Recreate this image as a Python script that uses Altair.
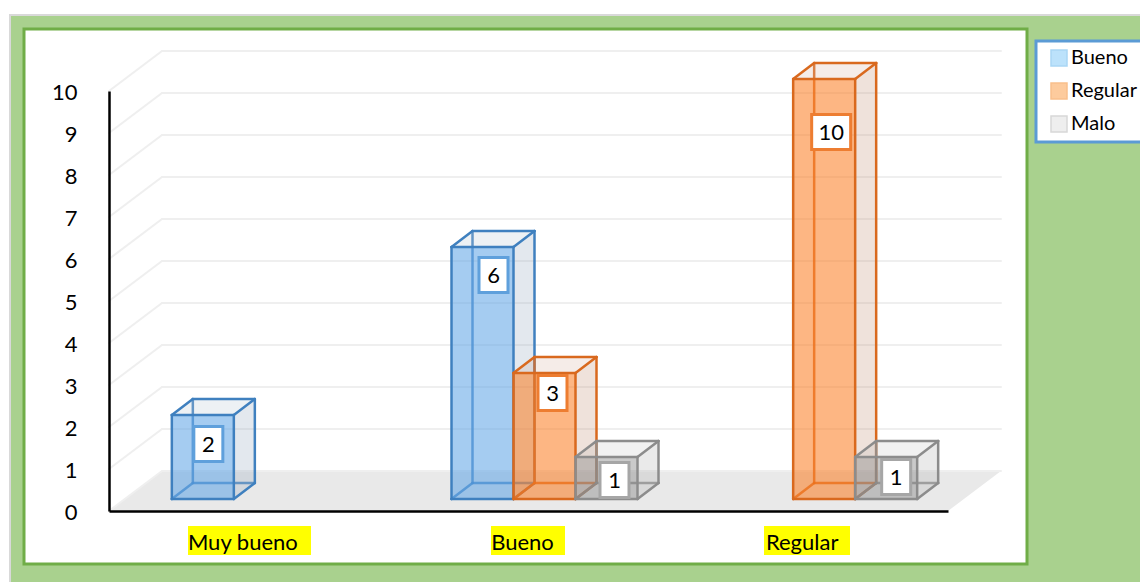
import altair as alt
import pandas as pd

# ---- chart values
categories = ["Muy bueno", "Bueno", "Regular"]
series = ["Bueno", "Regular", "Malo"]
bueno = [2, 6, None]
regular = [None, 3, 10]
malo = [None, 1, 1]
y_ticks = list(range(0, 11))

# ---- styling
FONT = "Lato"
FS = 22
legend_fill = ["#bce2fb", "#fdcb9d", "#eeeeee"]
legend_stroke = ["#a9d6f5", "#f9c08c", "#d8d8d8"]
edge = ["#3f80bf", "#d9691e", "#8c8c8c"]
box_edge = ["#5fa0dc", "#ed7d31", "#a6a6a6"]
front = ["#5ba3e6", "#fb7a1e", "#8a8a8a"]
side = ["#8fa5bb", "#c08a70", "#aaaaaa"]

# ---- layout (px of the plot area; the scales turn them into data units)
W, H = 839, 420
PX_X = 3 / W           # category units per pixel
PX_Y = 10 / H          # value units per pixel
ORIGIN_X, ORIGIN_Y = 109, 91
WALL_DX, WALL_DY = 53 * PX_X, 40 * PX_Y
BAR_W = 62 * PX_X
FRONT_DX, FRONT_DY = 16 * PX_X, 12 * PX_Y
DEPTH_DX, DEPTH_DY = 21 * PX_X, 16 * PX_Y
# per-bar data-label placement: px right of bar centre, px from bar top to box centre, box width
label_place = {
    (0, 0): (5.5, 29, 29),
    (1, 0): (11, 28, 29),
    (1, 1): (8, 20, 29),
    (1, 2): (8, 23, 29),
    (2, 1): (7, 53, 39),
    (2, 2): (10, 20, 29),
}
BOX_H = 35
yellow = [(188, 311), (491, 565), (764, 850)]

axis_x = alt.Axis(
    values=[0.5, 1.5, 2.5],
    labelExpr="datum.value < 1 ? 'Muy bueno' : datum.value < 2 ? 'Bueno' : 'Regular'",
    grid=False, ticks=False, domainColor="#000000", domainWidth=2.5,
    labelFont=FONT, labelFontSize=FS, labelColor="#000000", labelPadding=21,
    labelOffset=-6.5, labelAngle=0, zindex=1, labelOverlap=False, title=None,
)
axis_y = alt.Axis(
    values=y_ticks, grid=False, ticks=False, domainColor="#000000", domainWidth=2.5,
    labelFont=FONT, labelFontSize=FS, labelColor="#000000", labelPadding=32,
    labelOffset=1, zindex=1, labelOverlap=False, title=None, format="d",
)


def sx(field):
    return alt.X(field, type="quantitative", scale=alt.Scale(domain=[0, 3], nice=False, zero=False), axis=axis_x)


def sy(field):
    return alt.Y(field, type="quantitative", scale=alt.Scale(domain=[0, 10], nice=False, zero=False), axis=axis_y)


X2 = alt.X2
Y2 = alt.Y2


def frame(x0, x1, y0, y1, **kw):
    return alt.Chart(pd.DataFrame({"a": [0]})).mark_rect(**kw).encode(
        x=alt.value(x0 - ORIGIN_X), x2=alt.value(x1 - ORIGIN_X),
        y=alt.value(y0 - ORIGIN_Y), y2=alt.value(y1 - ORIGIN_Y),
    )


def rules(rows, color, width, opacity=1.0):
    return alt.Chart(pd.DataFrame(rows, columns=["x", "x2", "y", "y2"])).mark_rule(
        color=color, strokeWidth=width, opacity=opacity, strokeCap="round"
    ).encode(x=sx("x"), x2=X2("x2"), y=sy("y"), y2=Y2("y2"))


legend = alt.Legend(
    title=None, orient="none", legendX=927, legendY=-50,
    symbolType="square", symbolSize=256, symbolOpacity=1, symbolStrokeWidth=1.5,
    labelFont=FONT, labelFontSize=20, labelColor="#000000", labelOpacity=1,
    fillColor="#ffffff", strokeColor="#5b9bd5", padding=7, rowPadding=11,
    symbolOffset=6, labelOffset=2,
)
carrier = alt.Chart(pd.DataFrame({"serie": series, "x": [0, 0, 0], "y": [0, 0, 0]})).mark_square(
    opacity=0, filled=True
).encode(
    x=sx("x"), y=sy("y"),
    fill=alt.Fill("serie:N", sort=series, scale=alt.Scale(domain=series, range=legend_fill), legend=legend),
    stroke=alt.Stroke("serie:N", sort=series, scale=alt.Scale(domain=series, range=legend_stroke), legend=legend),
)

layers = [
    carrier,
    frame(10, 1160, 15, 600, fill="#a9d18e", stroke="#d9d9d9", strokeWidth=2),
    frame(24, 1027, 29, 564, fill="#ffffff", stroke="#70ad47", strokeWidth=3),
]

# floor
layers.append(
    alt.Chart(pd.DataFrame({"y": [0, WALL_DY], "x": [0, WALL_DX], "x2": [3, 3 + WALL_DX]}))
    .mark_area(orient="horizontal", color="#e9e9e9")
    .encode(y=sy("y"), x=sx("x"), x2=X2("x2"))
)

# gridlines on the side and back walls
grid_rows = []
for k in y_ticks:
    grid_rows.append((0, WALL_DX, k, k + WALL_DY))
    grid_rows.append((WALL_DX, 3 + WALL_DX, k + WALL_DY, k + WALL_DY))
layers.append(rules(grid_rows, "#efefef", 2))

# the 3D bars, back to front
for s, vals in enumerate([bueno, regular, malo]):
    for c, v in enumerate(vals):
        if v is None:
            continue
        x0 = c + 0.5 + (s - 1.5) * BAR_W + FRONT_DX
        x1 = x0 + BAR_W
        y0 = FRONT_DY
        y1 = v + FRONT_DY
        bx0, bx1, by0, by1 = x0 + DEPTH_DX, x1 + DEPTH_DX, y0 + DEPTH_DY, y1 + DEPTH_DY
        # hidden edges
        layers.append(rules([
            (bx0, bx1, by0, by0), (bx0, bx0, by0, by1), (x0, bx0, y0, by0)
        ], edge[s], 2.5, 0.85))
        # right side face
        layers.append(
            alt.Chart(pd.DataFrame({"x": [x1, bx1], "y": [y0, by0], "y2": [y1, by1]}))
            .mark_area(color=side[s], opacity=0.25)
            .encode(x=sx("x"), y=sy("y"), y2=Y2("y2"))
        )
        # top face
        layers.append(
            alt.Chart(pd.DataFrame({"y": [y1, by1], "x": [x0, bx0], "x2": [x1, bx1]}))
            .mark_area(orient="horizontal", color=side[s], opacity=0.16)
            .encode(y=sy("y"), x=sx("x"), x2=X2("x2"))
        )
        # front face
        layers.append(
            alt.Chart(pd.DataFrame({"x": [x0], "x2": [x1], "y": [y0], "y2": [y1]}))
            .mark_rect(color=front[s], opacity=0.55 if s < 2 else 0.45)
            .encode(x=sx("x"), x2=X2("x2"), y=sy("y"), y2=Y2("y2"))
        )
        # visible edges
        layers.append(rules([
            (x0, x1, y0, y0), (x0, x1, y1, y1), (x0, x0, y0, y1), (x1, x1, y0, y1),
            (bx0, bx1, by1, by1), (bx1, bx1, by0, by1),
            (x0, bx0, y1, by1), (x1, bx1, y1, by1), (x1, bx1, y0, by0),
        ], edge[s], 2.5))

# data labels
for s, vals in enumerate([bueno, regular, malo]):
    for c, v in enumerate(vals):
        if v is None:
            continue
        dx, drop, bw = label_place[(c, s)]
        cx = c + 0.5 + (s - 1.5) * BAR_W + FRONT_DX + BAR_W / 2 + dx * PX_X
        cy = v + FRONT_DY - drop * PX_Y
        row = pd.DataFrame({
            "x": [cx - bw / 2 * PX_X], "x2": [cx + bw / 2 * PX_X], "cx": [cx],
            "y": [cy - BOX_H / 2 * PX_Y], "y2": [cy + BOX_H / 2 * PX_Y], "cy": [cy],
            "label": [str(v)],
        })
        layers.append(
            alt.Chart(row).mark_rect(fill="#ffffff", stroke=box_edge[s], strokeWidth=3)
            .encode(x=sx("x"), x2=X2("x2"), y=sy("y"), y2=Y2("y2"))
        )
        layers.append(
            alt.Chart(row).mark_text(font=FONT, fontSize=FS, color="#000000", baseline="middle", dy=1)
            .encode(x=sx("cx"), y=sy("cy"), text="label:N")
        )

# yellow highlights behind the category labels
for a, b in yellow:
    layers.append(frame(a, b, 526, 555, fill="#ffff00"))

chart = (
    alt.layer(*layers)
    .properties(
        width=W, height=H,
        padding={"left": ORIGIN_X - 8, "top": ORIGIN_Y - 8, "right": 192, "bottom": 71},
        autosize=alt.AutoSizeParams(type="none"),
        background="#ffffff",
    )
    .configure_view(stroke=None, clip=False)
    .configure_legend(strokeWidth=3)
)

chart.save("out.html", embed_options={"renderer": "svg", "actions": False})
